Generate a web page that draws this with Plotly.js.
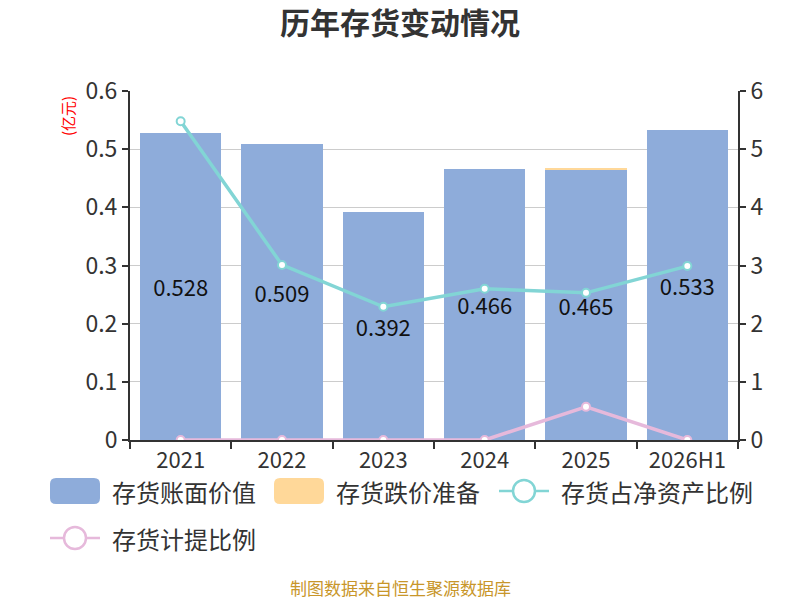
<!DOCTYPE html>
<html><head><meta charset="utf-8">
<script src="https://cdn.plot.ly/plotly-3.0.1.min.js"></script>
<style>body{margin:0}#c{width:800px;height:600px}</style>
</head><body><div id="c"></div>
<script>
const categories = ['2021','2022','2023','2024','2025','2026H1'];
const bookValue = [0.528, 0.509, 0.392, 0.466, 0.465, 0.533];
const impairment = [0, 0, 0, 0, 0.0027, 0];
const ratioNetAssets = [5.48, 3.01, 2.29, 2.60, 2.53, 2.99];
const ratioProvision = [0, 0, 0, 0, 0.57, 0];
const bookLabels = ['0.528','0.509','0.392','0.466','0.465','0.533'];
const seriesNames = ['存货账面价值','存货跌价准备','存货占净资产比例','存货计提比例'];
const seriesColors = ['#8EACDA','#FFD899','#82D5D5','#E6B9DB'];

const F = '"Noto Sans CJK SC", "Noto Sans", sans-serif';
const W = 800, H = 600, ML = 130, MR = 62, MT = 91, MB = 160;
const PW = W - ML - MR, PH = H - MT - MB;
const px = v => (v - ML) / PW;          // pixel x -> paper
const py = v => (H - MB - v) / PH;      // pixel y -> paper

const traces = [
  {type:'bar', name:seriesNames[0], x:categories, y:bookValue, marker:{color:seriesColors[0]},
   text:bookLabels, textposition:'inside', insidetextanchor:'middle', constraintext:'none',
   textfont:{size:22, color:'#111', family:F}},
  {type:'bar', name:seriesNames[1], x:categories, y:impairment, marker:{color:seriesColors[1]}},
  {type:'scatter', mode:'lines+markers', name:seriesNames[2], x:categories, y:ratioNetAssets, yaxis:'y2',
   line:{color:seriesColors[2], width:3.5}, marker:{symbol:'circle', size:8, color:'#fff', line:{color:seriesColors[2], width:2}}},
  {type:'scatter', mode:'lines+markers', name:seriesNames[3], x:categories, y:ratioProvision, yaxis:'y2',
   line:{color:seriesColors[3], width:3.5}, marker:{symbol:'circle', size:8, color:'#fff', line:{color:seriesColors[3], width:2}}}
];

// custom legend (ECharts style)
const legendItems = [
  {kind:'rect', x:50, y:491},
  {kind:'rect', x:274, y:491},
  {kind:'line', x:499, y:491},
  {kind:'line', x:50, y:538}
];
const shapes = [], annotations = [];
legendItems.forEach((it, i) => {
  const c = seriesColors[i];
  if (it.kind === 'rect') {
    const x0 = it.x, x1 = it.x + 50, y0 = it.y - 13, y1 = it.y + 13, r = 6;
    const path = `M${px(x0+r)},${py(y0)} L${px(x1-r)},${py(y0)} Q${px(x1)},${py(y0)} ${px(x1)},${py(y0+r)} ` +
      `L${px(x1)},${py(y1-r)} Q${px(x1)},${py(y1)} ${px(x1-r)},${py(y1)} L${px(x0+r)},${py(y1)} ` +
      `Q${px(x0)},${py(y1)} ${px(x0)},${py(y1-r)} L${px(x0)},${py(y0+r)} Q${px(x0)},${py(y0)} ${px(x0+r)},${py(y0)} Z`;
    shapes.push({type:'path', xref:'paper', yref:'paper', path:path, fillcolor:c, line:{width:0}});
  } else {
    shapes.push({type:'line', xref:'paper', yref:'paper', x0:px(it.x), x1:px(it.x+50), y0:py(it.y), y1:py(it.y),
                 line:{color:c, width:2.5}});
    shapes.push({type:'circle', xref:'paper', yref:'paper', x0:px(it.x+25-11), x1:px(it.x+25+11),
                 y0:py(it.y+11), y1:py(it.y-11), fillcolor:'#fff', line:{color:c, width:2.5}});
  }
  annotations.push({text:seriesNames[i], xref:'paper', yref:'paper', x:px(it.x+60), xanchor:'left',
                    y:py(it.y), yanchor:'middle', showarrow:false, font:{size:24, color:'#333', family:F}});
});
annotations.push({text:'(亿元)', xref:'paper', yref:'paper', x:px(68), xanchor:'center', y:py(116), yanchor:'middle',
                  textangle:-90, showarrow:false, font:{size:15, color:'#ff0000', family:F}});
annotations.push({text:'制图数据来自恒生聚源数据库', xref:'paper', yref:'paper', x:px(400), xanchor:'center', y:py(587),
                  yanchor:'middle', showarrow:false, font:{size:17, color:'#C8962A', family:F}});

const axisCommon = {ticks:'outside', ticklen:6, tickwidth:2, tickcolor:'#333', showline:true, linecolor:'#333',
                    linewidth:2, zeroline:false, tickfont:{size:23, color:'#333', family:F}};
const layout = {
  width:W, height:H, paper_bgcolor:'#fff', plot_bgcolor:'#fff',
  margin:{l:ML, r:MR, t:MT, b:MB},
  font:{family:F, color:'#333'},
  title:{text:'<b>历年存货变动情况</b>', font:{size:30, color:'#333', family:F}, x:0.5, xanchor:'center',
         y:1 - 23/H, yanchor:'middle'},
  barmode:'stack', bargap:0.2,
  showlegend:false,
  xaxis:Object.assign({}, axisCommon, {type:'category', tickson:'boundaries', showgrid:false, ticklen:7,
         tickfont:{size:22, color:'#333', family:F}}),
  yaxis:Object.assign({}, axisCommon, {range:[0,0.6], dtick:0.1, gridcolor:'#ccc', gridwidth:1, tickformat:'.1~f'}),
  yaxis2:Object.assign({}, axisCommon, {range:[0,6], dtick:1, overlaying:'y', side:'right', showgrid:false}),
  shapes:shapes, annotations:annotations
};
Plotly.newPlot('c', traces, layout, {displayModeBar:false, staticPlot:true});
</script></body></html>
